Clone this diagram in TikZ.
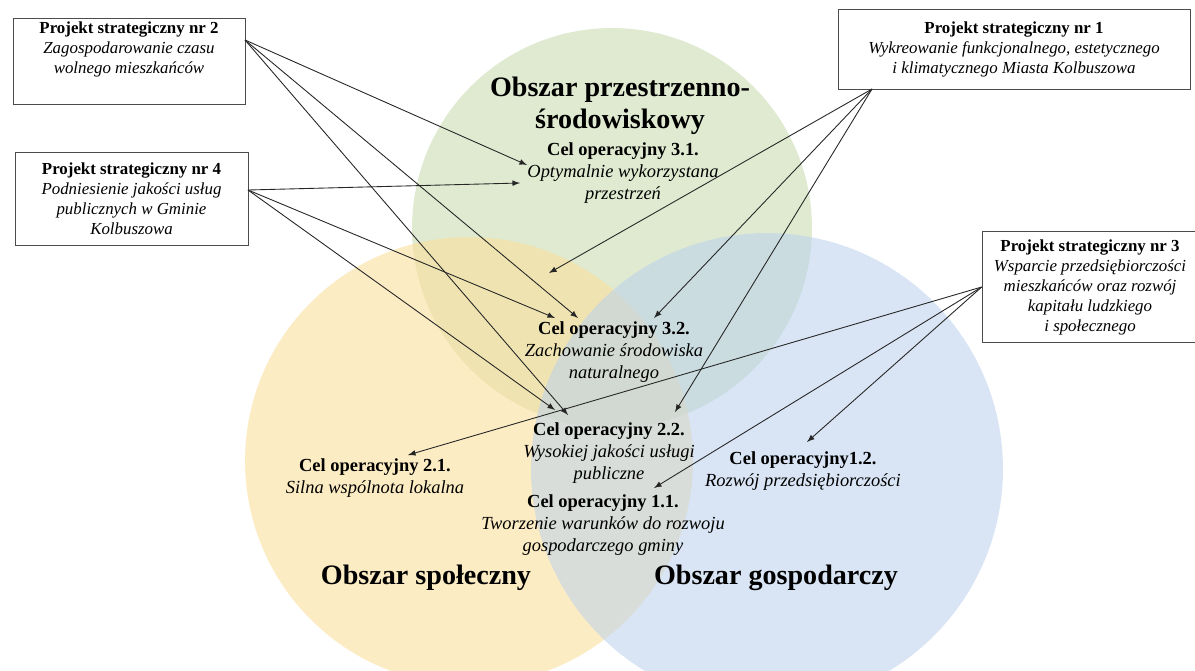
\documentclass[tikz,border=0pt]{standalone}
\usepackage{fontspec}
\setmainfont{Liberation Serif}
\usetikzlibrary{arrows}

\definecolor{zielony}{HTML}{C6DAAC}
\definecolor{zolty}{HTML}{FBE09C}
\definecolor{niebieski}{HTML}{BBD1EE}

\begin{document}
\begin{tikzpicture}[x=0.02cm,y=-0.02cm,>=latex,
area/.style = {font=\fontsize{16}{18.3}\selectfont\bfseries, align=center, inner sep=0pt},
goal/.style = {font=\fontsize{10.5}{12.4}\selectfont, align=center, inner sep=1pt},
project/.style = {draw=black!70, fill=white, font=\fontsize{9.6}{11.4}\selectfont, align=center, inner sep=2pt},
link/.style = {->, black!85, line width=0.5pt}]
\clip (0,0) rectangle (1195,670);
\fill[white] (0,0) rectangle (1195,670);

% obszary
\fill[zielony, fill opacity=0.55] (612,228) circle[radius=4cm];
\fill[zolty, fill opacity=0.6] (469,461) circle[radius=4.48cm];
\fill[niebieski, fill opacity=0.55] (767,469) circle[radius=4.72cm];

\node[area] (a3) at (620,106) {Obszar przestrzenno-\\środowiskowy};
\node[area] (a2) at (426,578) {Obszar społeczny};
\node[area] (a1) at (776,578) {Obszar gospodarczy};

% cele operacyjne
\node[goal] (c31) at (623,173) {\textbf{Cel operacyjny 3.1.}\\\textit{Optymalnie wykorzystana}\\\textit{przestrzeń}};
\node[goal] (c32) at (614,352) {\textbf{Cel operacyjny 3.2.}\\\textit{Zachowanie środowiska}\\\textit{naturalnego}};
\node[goal] (c22) at (609,453) {\textbf{Cel operacyjny 2.2.}\\\textit{Wysokiej jakości usługi}\\\textit{publiczne}};
\node[goal] (c21) at (375,478) {\textbf{Cel operacyjny 2.1.}\\\textit{Silna wspólnota lokalna}};
\node[goal] (c11) at (603,525) {\textbf{Cel operacyjny 1.1.}\\\textit{Tworzenie warunków do rozwoju}\\\textit{gospodarczego gminy}};
\node[goal] (c12) at (803,471) {\textbf{Cel operacyjny1.2.}\\\textit{Rozwój przedsiębiorczości}};

% projekty strategiczne
\node[project, minimum width=4.64cm, minimum height=1.64cm] (p2) at (129,61) {\textbf{Projekt strategiczny nr 2}\\\textit{Zagospodarowanie czasu}\\\textit{wolnego mieszkańców}\\[4pt]};
\node[project, minimum width=4.66cm, minimum height=1.86cm] (p4) at (131.5,198.5) {\textbf{Projekt strategiczny nr 4}\\\textit{Podniesienie jakości usług}\\\textit{publicznych w Gminie}\\\textit{Kolbuszowa}};
\node[project, minimum width=7.04cm, minimum height=1.6cm] (p1) at (1014,49) {\textbf{Projekt strategiczny nr 1}\\\textit{Wykreowanie funkcjonalnego, estetycznego}\\\textit{i klimatycznego Miasta Kolbuszowa}};
\node[project, minimum width=4.32cm, minimum height=2.22cm] (p3) at (1090,287) {\textbf{Projekt strategiczny nr 3}\\\textit{Wsparcie przedsiębiorczości}\\\textit{mieszkańców oraz rozwój}\\\textit{kapitału ludzkiego}\\\textit{i społecznego}};

% punkty wyjscia i konce strzalek
\coordinate (o2) at (245,40);
\coordinate (o4) at (248,190);
\coordinate (o1) at (872,89);
\coordinate (t31a) at (527,165);
\coordinate (t31b) at (520,183);
\coordinate (t32a) at (555,318);
\coordinate (t32b) at (578,318);
\coordinate (t32c) at (654,318);
\coordinate (t22a) at (555,410);
\coordinate (t22b) at (568,415);
\coordinate (t22c) at (675,412);
\coordinate (tx) at (549,273);
\coordinate (t21) at (408,455);
\coordinate (t11) at (654,488);
\coordinate (t12) at (807,442);

\draw[link] (o2) -- (t31a);
\draw[link] (o2) -- (t32b);
\draw[link] (o2) -- (t22b);
\draw[link] (o4) -- (t31b);
\draw[link] (o4) -- (t32a);
\draw[link] (o4) -- (t22a);
\draw[link] (o1) -- (tx);
\draw[link] (o1) -- (t32c);
\draw[link] (o1) -- (t22c);
\draw[link] (p3.west) -- (t21);
\draw[link] (p3.west) -- (t11);
\draw[link] (p3.west) -- (t12);
\end{tikzpicture}
\end{document}
